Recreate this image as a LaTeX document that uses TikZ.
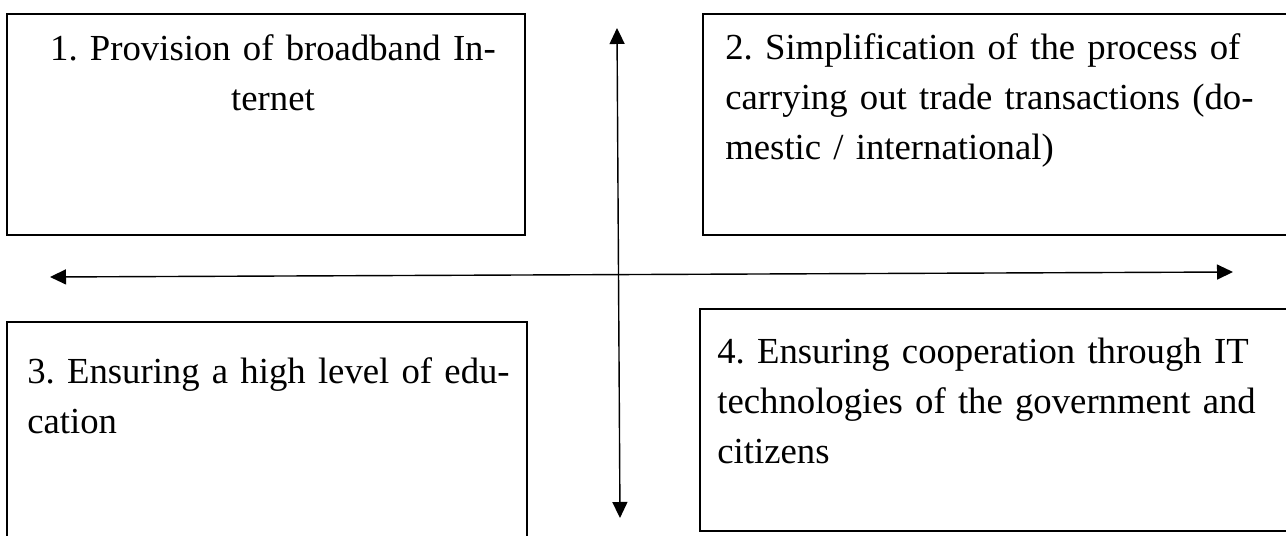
\documentclass[tikz,border=0pt]{standalone}
\usepackage{fontspec}
\setmainfont{Liberation Serif}
\usetikzlibrary{arrows.meta, fit}
\frenchspacing

\begin{document}
\begin{tikzpicture}[
    x=0.02cm, y=-0.02cm,
    every node/.style={font=\fontsize{20.9}{28.4}\selectfont},
    panel/.style={
        rectangle, draw=black, line width=1.1pt,
        inner sep=0pt, fill=none,
    },
    txt/.style={
        inner sep=0pt, text width=#1, align=left, anchor=base west,
    },
    dbl/.style={{Triangle[length=0.32cm, width=0.3cm]}-{Triangle[length=0.32cm, width=0.3cm]},
        line width=0.8pt, color=black},
]
\clip (0,0) rectangle (1286,536);

% ---------------------------------------------------------------- boxes
\node[panel, fit={(7,14) (525,235)}] (box1) {};
\node[panel, fit={(703,14) (1300,235)}] (box2) {};
\node[panel, fit={(7,322) (527,560)}] (box3) {};
\node[panel, fit={(700,309) (1300,531)}] (box4) {};

% ---------------------------------------------------------------- texts
\node[txt=10.2cm, align=center, anchor=base] (t1) at (273,61)
    {1. Provision of broadband In-\\ternet};
\node[txt=13cm] (t2) at (725,60)
    {2. Simplification of the process of\\carrying out trade transactions (do-\\mestic / international)};
\node[txt=12cm] (t3) at (27,384)
    {3. Ensuring a high level of edu-\\cation};
\node[txt=13cm] (t4) at (717,364)
    {4. Ensuring cooperation through IT\\technologies of the government and\\citizens};

% ---------------------------------------------------------------- axes
\coordinate (vtop) at (617,28);
\coordinate (vbot) at (620,518);
\coordinate (hleft) at (50,277);
\coordinate (hright) at (1233,272);

\draw[dbl] (vtop) -- (vbot);
\draw[dbl] (hleft) -- (hright);

\end{tikzpicture}
\end{document}
